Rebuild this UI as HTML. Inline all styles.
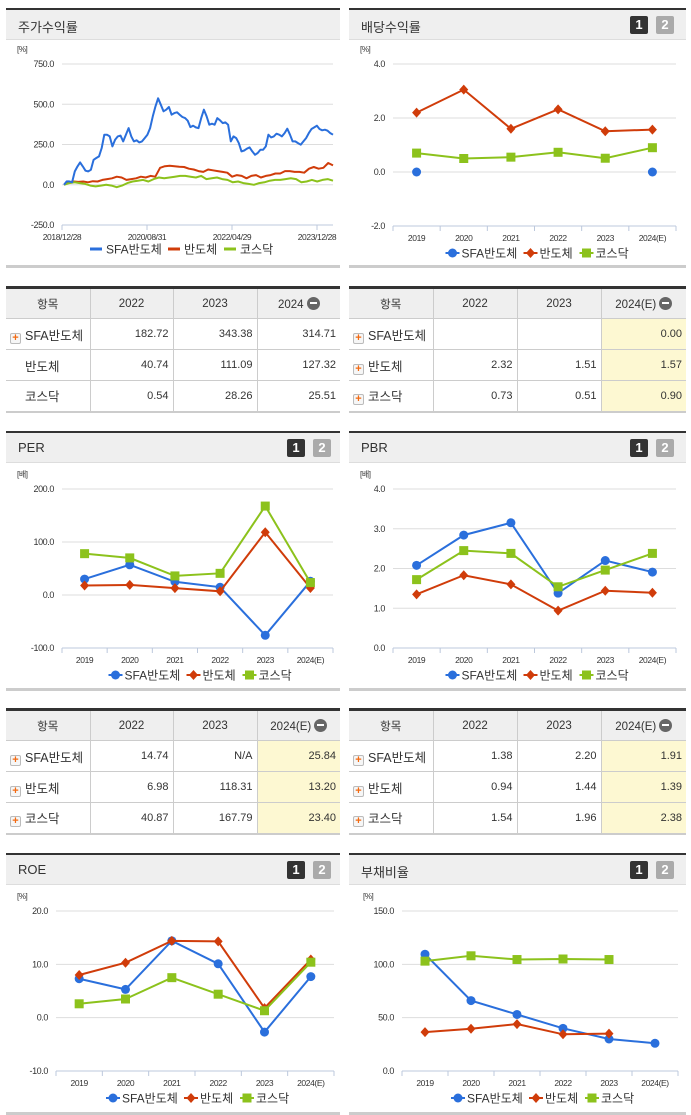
<!DOCTYPE html>
<html><head><meta charset="utf-8">
<style>
*{margin:0;padding:0;box-sizing:border-box}
body{width:691px;height:1115px;background:#fff;position:relative;overflow:hidden;font-family:"Liberation Sans","Noto Sans CJK KR",sans-serif;color:#333}
.panel{position:absolute;border-top:2px solid #333;border-bottom:3px solid #ccc}
.ph{position:absolute;left:0;right:0;top:0;height:30px;background:#efefef;border-bottom:1px solid #ddd}
.ph .t{position:absolute;left:12px;top:7px;font-size:13px;color:#333}
.b1,.b2{position:absolute;top:6px;width:18px;height:18px;border-radius:2px;color:#fff;font-weight:bold;font-size:13px;text-align:center;line-height:18px}
.b1{background:#333}.b2{background:#aaa}
table{position:absolute;border-collapse:collapse;table-layout:fixed;border-top:3px solid #333;border-bottom:2px solid #ccc;font-size:11px}
td,th{border:1px solid #ccc;height:31px;padding:0 4px;font-weight:normal}
tr td:first-child,tr th:first-child{border-left:none}
tr td:last-child,tr th:last-child{border-right:none}
th{background:#efefef;font-size:11.5px;text-align:center}
td{text-align:right}
td.n{text-align:left;font-size:12.5px;padding-left:4px}
td.y{background:#fdf8d2}
.pl{display:inline-block;width:11px;height:11px;border:1px solid #bbb;border-radius:2px;background:#f6f6f6;color:#f26a12;font-size:11px;line-height:9px;text-align:center;font-weight:bold;vertical-align:-1px;margin-right:4px}
.sp{display:inline-block;width:15px}
.mi{display:inline-block;width:13px;height:13px;border-radius:50%;background:#666;vertical-align:-2px;position:relative;margin-left:3px}
.mi:after{content:"";position:absolute;left:3px;top:5.5px;width:7px;height:2px;background:#fff}
svg{position:absolute;left:0;top:0}
</style></head><body>

<div class="panel" style="left:6px;top:8px;width:334px;height:260px"><div class="ph"><span class="t">주가수익률</span></div></div>
<div class="panel" style="left:349px;top:8px;width:337px;height:260px"><div class="ph"><span class="t">배당수익률</span><span class="b1" style="left:281px">1</span><span class="b2" style="left:307px">2</span></div></div>

<div class="panel" style="left:6px;top:431px;width:334px;height:260px"><div class="ph"><span class="t">PER</span><span class="b1" style="left:281px">1</span><span class="b2" style="left:307px">2</span></div></div>
<div class="panel" style="left:349px;top:431px;width:337px;height:260px"><div class="ph"><span class="t">PBR</span><span class="b1" style="left:281px">1</span><span class="b2" style="left:307px">2</span></div></div>

<div class="panel" style="left:6px;top:853px;width:334px;height:262px"><div class="ph"><span class="t">ROE</span><span class="b1" style="left:281px">1</span><span class="b2" style="left:307px">2</span></div></div>
<div class="panel" style="left:349px;top:853px;width:337px;height:262px"><div class="ph"><span class="t">부채비율</span><span class="b1" style="left:281px">1</span><span class="b2" style="left:307px">2</span></div></div>

<table style="left:6px;top:286px;width:334px">
<colgroup><col style="width:84px"><col style="width:83px"><col style="width:84px"><col style="width:83px"></colgroup>
<tr><th>항목</th><th>2022</th><th>2023</th><th>2024<span class="mi"></span></th></tr>
<tr><td class="n"><span class="pl">+</span>SFA반도체</td><td>182.72</td><td>343.38</td><td>314.71</td></tr>
<tr><td class="n"><span class="sp"></span>반도체</td><td>40.74</td><td>111.09</td><td>127.32</td></tr>
<tr><td class="n"><span class="sp"></span>코스닥</td><td>0.54</td><td>28.26</td><td>25.51</td></tr>
</table>
<table style="left:349px;top:286px;width:337px">
<colgroup><col style="width:84px"><col style="width:84px"><col style="width:84px"><col style="width:85px"></colgroup>
<tr><th>항목</th><th>2022</th><th>2023</th><th>2024(E)<span class="mi"></span></th></tr>
<tr><td class="n"><span class="pl">+</span>SFA반도체</td><td></td><td></td><td class="y">0.00</td></tr>
<tr><td class="n"><span class="pl">+</span>반도체</td><td>2.32</td><td>1.51</td><td class="y">1.57</td></tr>
<tr><td class="n"><span class="pl">+</span>코스닥</td><td>0.73</td><td>0.51</td><td class="y">0.90</td></tr>
</table>
<table style="left:6px;top:708px;width:334px">
<colgroup><col style="width:84px"><col style="width:83px"><col style="width:84px"><col style="width:83px"></colgroup>
<tr><th>항목</th><th>2022</th><th>2023</th><th>2024(E)<span class="mi"></span></th></tr>
<tr><td class="n"><span class="pl">+</span>SFA반도체</td><td>14.74</td><td>N/A</td><td class="y">25.84</td></tr>
<tr><td class="n"><span class="pl">+</span>반도체</td><td>6.98</td><td>118.31</td><td class="y">13.20</td></tr>
<tr><td class="n"><span class="pl">+</span>코스닥</td><td>40.87</td><td>167.79</td><td class="y">23.40</td></tr>
</table>
<table style="left:349px;top:708px;width:337px">
<colgroup><col style="width:84px"><col style="width:84px"><col style="width:84px"><col style="width:85px"></colgroup>
<tr><th>항목</th><th>2022</th><th>2023</th><th>2024(E)<span class="mi"></span></th></tr>
<tr><td class="n"><span class="pl">+</span>SFA반도체</td><td>1.38</td><td>2.20</td><td class="y">1.91</td></tr>
<tr><td class="n"><span class="pl">+</span>반도체</td><td>0.94</td><td>1.44</td><td class="y">1.39</td></tr>
<tr><td class="n"><span class="pl">+</span>코스닥</td><td>1.54</td><td>1.96</td><td class="y">2.38</td></tr>
</table>

<svg id="chart" width="691" height="1115"></svg>

<script>
const years = ["2019","2020","2021","2022","2023","2024(E)"];
const stockDates = ["2018/12/28","2020/08/31","2022/04/29","2023/12/28"];
const stockSFA = [0,21,21,15,83,114,139,114,87,83,93,155,166,176,228,311,311,300,238,280,300,305,269,311,352,300,269,276,263,269,290,311,352,425,487,537,497,456,466,483,435,445,450,435,421,414,398,358,367,356,352,414,466,425,373,379,373,414,400,383,387,373,269,300,290,259,207,213,224,232,207,186,197,218,218,238,311,294,300,317,311,300,321,348,311,269,269,259,249,269,290,321,346,356,367,346,338,342,336,321,311];
const stockSemi = [0,15,20,18,20,15,22,20,30,35,40,50,45,30,35,40,50,45,55,50,105,115,118,115,112,110,100,95,85,80,95,90,85,80,75,50,60,55,40,55,60,45,55,60,70,70,85,85,80,80,75,100,110,100,105,135,120];
const stockKosdaq = [0,10,15,10,5,-5,-10,-5,0,-5,-15,-5,10,20,25,30,20,35,45,40,45,50,55,55,50,45,55,35,40,45,35,30,15,20,10,5,0,10,15,25,30,30,35,40,35,15,20,30,20,30,35,25];
const stockTicks = [750,500,250,0,-250];

const divSFA = [0,null,null,null,null,0];
const divSemi = [2.2,3.05,1.6,2.32,1.51,1.57];
const divKosdaq = [0.7,0.5,0.55,0.73,0.51,0.90];
const divTicks = [4,2,0,-2];

const perSFA = [30,57,25,14.74,-76,25.84];
const perSemi = [18,19,13,6.98,118.31,13.2];
const perKosdaq = [78,70,36,40.87,167.79,23.4];
const perTicks = [200,100,0,-100];

const pbrSFA = [2.08,2.84,3.15,1.38,2.20,1.91];
const pbrSemi = [1.35,1.83,1.60,0.94,1.44,1.39];
const pbrKosdaq = [1.72,2.45,2.38,1.54,1.96,2.38];
const pbrTicks = [4,3,2,1,0];

const roeSFA = [7.3,5.3,14.4,10.1,-2.7,7.7];
const roeSemi = [8.0,10.3,14.4,14.3,1.8,10.9];
const roeKosdaq = [2.6,3.5,7.5,4.4,1.3,10.4];
const roeTicks = [20,10,0,-10];

const debtSFA = [109.5,66,53,40,30,26];
const debtSemi = [36.5,39.6,44,34.4,35,null];
const debtKosdaq = [103,108,104.5,105,104.5,null];
const debtTicks = [150,100,50,0];

const seriesNames = ["SFA반도체","반도체","코스닥"];
const COL = ["#2a6fdc","#d03c0a","#8cc21c"];
const NS = "http://www.w3.org/2000/svg";
const svg = document.getElementById("chart");
function el(tag, attrs, parent){const e=document.createElementNS(NS,tag);for(const k in attrs)e.setAttribute(k,attrs[k]);(parent||svg).appendChild(e);return e;}
function txt(x,y,s,attrs){const t=el("text",Object.assign({x:x,y:y,"font-size":"9","fill":"#333","font-family":"Liberation Sans, Noto Sans CJK KR, sans-serif","letter-spacing":"-0.4"},attrs||{}));t.textContent=s;return t;}

function marker(g,i,x,y){
  if(i===0) return el("circle",{cx:x,cy:y,r:4.5,fill:COL[0]},g);
  if(i===1) return el("path",{d:`M${x} ${y-5}L${x+4.5} ${y}L${x} ${y+5}L${x-4.5} ${y}Z`,fill:COL[1]},g);
  return el("rect",{x:x-4.5,y:y-4.5,width:9,height:9,fill:COL[2]},g);
}

function frame(c, name){
  const g=el("g",{});
  
  
  const ys=v=>c.top+(c.max-v)/(c.max-c.min)*(c.bot-c.top);
  txt(c.unitX,c.top-12,c.unit,{"font-size":"8"});
  c.ticks.forEach(t=>{
    const y=ys(t);
    if(t!==c.min) el("line",{x1:c.left,x2:c.right,y1:y,y2:y,stroke:"#ddd","stroke-width":1},g);
    const lab=txt(c.left-8,y+3,t.toFixed(1),{"text-anchor":"end"});
    
    
  });
  el("line",{x1:c.left,x2:c.right,y1:c.bot,y2:c.bot,stroke:"#bcc8dc","stroke-width":1},g);
  return {g,ys};
}

function legend(cx,y,lineStyle,name){
  const lg=el("g",{});
  
  
  const widths=[70,48,44];
  let total=widths.reduce((a,b)=>a+b,0)+16;
  let x=cx-total/2;
  seriesNames.forEach((n,i)=>{
    if(lineStyle) el("line",{x1:x,x2:x+12,y1:y,y2:y,stroke:COL[i],"stroke-width":3},lg);
    else {el("line",{x1:x,x2:x+14,y1:y,y2:y,stroke:COL[i],"stroke-width":2},lg);marker(lg,i,x+7,y);}
    const t=txt(x+16,y+4.5,n,{"font-size":"12","fill":"#333","letter-spacing":"0"});
    
    
    lg.appendChild(t);
    x+=widths[i]+8;
  });
}

function catChart(c,series,name,legendName){
  const {g,ys}=frame(c,name);
  const bw=(c.right-c.left)/years.length;
  const xs=i=>c.left+bw*(i+0.5);
  for(let i=0;i<=years.length;i++) el("line",{x1:c.left+bw*i,x2:c.left+bw*i,y1:c.bot,y2:c.bot+5,stroke:"#bcc8dc"},g);
  years.forEach((y,i)=>{const t=txt(xs(i),c.bot+15,y,{"text-anchor":"middle","font-size":"8.5"});});
  series.forEach((arr,si)=>{
    let d="",pen=false;
    arr.forEach((v,i)=>{ if(v===null){pen=false;return;} d+=(pen?"L":"M")+xs(i)+" "+ys(v); pen=true;});
    const cnt=arr.filter(v=>v!==null).length;
    if(cnt>1 && !(si===0 && c.sparse)){const p=el("path",{d:d,fill:"none",stroke:COL[si],"stroke-width":2},g);}
    arr.forEach((v,i)=>{ if(v===null)return; const m=marker(g,si,xs(i),ys(v));  });
  });
  legend((c.left+c.right)/2+(c.lgShift||0),c.bot+27,false,legendName);
}

// stock chart
(function(){
  const c={left:62,right:333,top:64,bot:225,max:750,min:-250,ticks:stockTicks,unit:"[%]",unitX:17};
  const {g,ys}=frame(c,"stock-return-chart");
  const n=stockSFA.length;
  const xsN=(i,len)=>c.left+2+i/(len-1)*(c.right-c.left-2);
  stockDates.forEach((d,i)=>{const x=c.left+i*(c.right-c.left-16)/3; el("line",{x1:x,x2:x,y1:c.bot,y2:c.bot+5,stroke:"#bcc8dc"},g); const t=txt(x,c.bot+15,d,{"text-anchor":"middle","font-size":"8.5"});});
  [stockSemi,stockKosdaq,stockSFA].forEach((arr)=>{
    const si=arr===stockSFA?0:arr===stockSemi?1:2;
    let d="";arr.forEach((v,i)=>{d+=(i?"L":"M")+xsN(i,arr.length).toFixed(1)+" "+ys(v).toFixed(1);});
    const p=el("path",{d:d,fill:"none",stroke:COL[si],"stroke-width":2,"stroke-linejoin":"round"},g);
    
    
  });
  legend(179,c.bot+24,true,"stock-return-legend");
})();

catChart({left:393,right:676,top:64,bot:226,max:4,min:-2,ticks:divTicks,unit:"[%]",unitX:360,sparse:true},[divSFA,divSemi,divKosdaq],"dividend-chart","dividend-legend");
catChart({left:62,right:333,top:489,bot:648,max:200,min:-100,ticks:perTicks,unit:"[배]",unitX:17},[perSFA,perSemi,perKosdaq],"per-chart","per-legend");
catChart({left:393,right:676,top:489,bot:648,max:4,min:0,ticks:pbrTicks,unit:"[배]",unitX:360},[pbrSFA,pbrSemi,pbrKosdaq],"pbr-chart","pbr-legend");
catChart({left:56,right:334,top:911,bot:1071,max:20,min:-10,ticks:roeTicks,unit:"[%]",unitX:17},[roeSFA,roeSemi,roeKosdaq],"roe-chart","roe-legend");
catChart({left:402,right:678,top:911,bot:1071,max:150,min:0,ticks:debtTicks,unit:"[%]",unitX:363},[debtSFA,debtSemi,debtKosdaq],"debt-ratio-chart","debt-ratio-legend");
</script>
</body></html>
